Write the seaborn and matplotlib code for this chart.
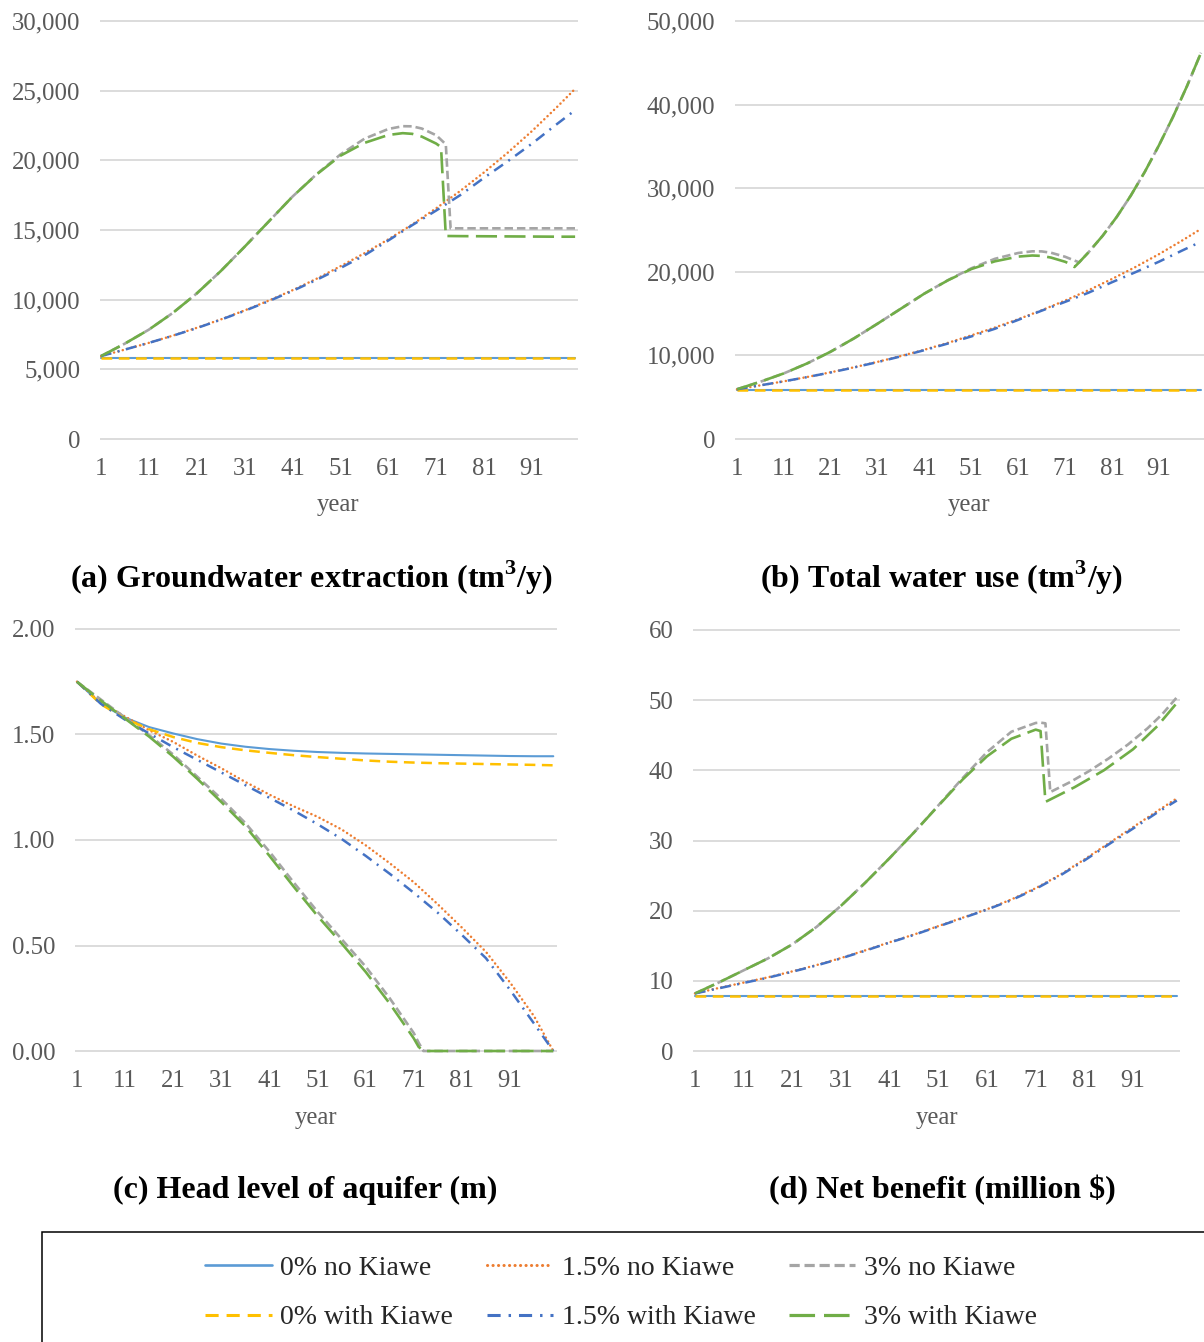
import matplotlib
matplotlib.use("Agg")
import matplotlib.pyplot as plt
import seaborn as sns
from matplotlib.lines import Line2D
from matplotlib.patches import Rectangle
from matplotlib.ticker import FuncFormatter

# ---------------- data ----------------
YR = [1, 6, 11, 16, 21, 26, 31, 36, 41, 46, 51, 56, 61, 66, 71, 76, 81, 86, 91, 96, 100]
YR_FLAT = [1, 100]
X_TICKS = [1, 11, 21, 31, 41, 51, 61, 71, 81, 91]

# (a) Groundwater extraction (tm3/y)
a_0_no = [5830, 5830]
a_0_w = [5810, 5810]
a_15_no = [5950, 6420, 6900, 7420, 7980, 8580, 9230, 9930, 10680, 11500, 12400,
           13330, 14330, 15400, 16560, 17800, 19140, 20570, 22100, 23750, 25130]
a_15_w = [5950, 6420, 6900, 7410, 7960, 8560, 9200, 9890, 10630, 11420, 12270,
          13180, 14250, 15350, 16400, 17500, 18750, 19950, 21200, 22550, 23600]
a_3_no_yr = [1, 6, 11, 16, 21, 26, 31, 36, 41, 46, 51, 56, 61, 64, 66, 68, 71, 73, 74,
             76, 81, 86, 91, 96, 100]
a_3_no = [5950, 6850, 7850, 9050, 10450, 12050, 13800, 15600, 17400, 19000, 20420,
          21550, 22250, 22450, 22440, 22280, 21800, 21150, 15120,
          15120, 15120, 15120, 15120, 15120, 15120]
a_3_w_yr = [1, 6, 11, 16, 21, 26, 31, 36, 41, 46, 51, 56, 61, 64, 66, 68, 71, 72, 73,
            76, 81, 86, 91, 96, 100]
a_3_w = [5950, 6850, 7850, 9050, 10450, 12050, 13800, 15600, 17400, 18980, 20330,
         21250, 21820, 21950, 21900, 21700, 21200, 20950, 14570,
         14560, 14550, 14540, 14530, 14520, 14520]

# (b) Total water use (tm3/y)
b_0_no = [5830, 5830]
b_0_w = [5810, 5810]
b_15_no = a_15_no
b_15_w = a_15_w
b_3_no_yr = [1, 6, 11, 16, 21, 26, 31, 36, 41, 46, 51, 56, 61, 64, 66, 68, 71, 73, 74,
             76, 79, 82, 85, 88, 91, 94, 97, 100]
b_3_no = [5950, 6850, 7850, 9050, 10450, 12050, 13800, 15600, 17400, 19000, 20420,
          21550, 22250, 22450, 22440, 22280, 21800, 21350, 21130,
          22330, 24300, 26550, 29100, 31950, 35100, 38500, 42200, 46200]
b_3_w_yr = [1, 6, 11, 16, 21, 26, 31, 36, 41, 46, 51, 56, 61, 64, 66, 68, 71, 72, 73, 74,
            76, 79, 82, 85, 88, 91, 94, 97, 100]
b_3_w = [5950, 6850, 7850, 9050, 10450, 12050, 13800, 15600, 17400, 18980, 20330,
         21250, 21820, 21950, 21900, 21700, 21200, 20950, 20570, 21130,
         22330, 24300, 26550, 29100, 31950, 35100, 38500, 42200, 46200]

# (c) Head level of aquifer (m)
c_0_no = [1.75, 1.645, 1.58, 1.535, 1.505, 1.478, 1.457, 1.442, 1.431, 1.423, 1.417,
          1.413, 1.410, 1.408, 1.406, 1.404, 1.402, 1.400, 1.398, 1.397, 1.397]
c_0_w = [1.75, 1.643, 1.575, 1.525, 1.488, 1.460, 1.440, 1.425, 1.413, 1.402, 1.393,
         1.385, 1.377, 1.371, 1.367, 1.364, 1.362, 1.360, 1.358, 1.356, 1.354]
c_15_no = [1.75, 1.65, 1.585, 1.52, 1.465, 1.40, 1.34, 1.275, 1.215, 1.16, 1.11,
           1.05, 0.975, 0.89, 0.80, 0.695, 0.585, 0.47, 0.325, 0.165, 0.0]
c_15_w = [1.75, 1.645, 1.57, 1.505, 1.44, 1.38, 1.32, 1.26, 1.20, 1.14, 1.075,
          1.005, 0.925, 0.84, 0.75, 0.655, 0.55, 0.44, 0.29, 0.13, 0.0]
c_3_yr = [1, 6, 11, 16, 21, 26, 31, 36, 41, 46, 51, 56, 61, 66, 71, 72, 73,
          76, 81, 86, 91, 96, 100]
c_3_no = [1.75, 1.665, 1.58, 1.497, 1.405, 1.30, 1.195, 1.08, 0.945, 0.80, 0.66,
          0.53, 0.40, 0.25, 0.085, 0.04, 0.0, 0.0, 0.0, 0.0, 0.0, 0.0, 0.0]
c_3_w = [1.75, 1.66, 1.575, 1.49, 1.395, 1.29, 1.18, 1.065, 0.925, 0.78, 0.64,
         0.51, 0.375, 0.225, 0.06, 0.02, 0.0, 0.0, 0.0, 0.0, 0.0, 0.0, 0.0]

# (d) Net benefit (million $)
d_0_no = [7.9, 7.9]
d_0_w = [7.9, 7.9]
d_15_no = [8.2, 9.0, 9.75, 10.5, 11.35, 12.25, 13.25, 14.35, 15.5, 16.6, 17.8,
           19.0, 20.2, 21.6, 23.2, 25.1, 27.3, 29.6, 31.9, 34.2, 36.0]
d_15_w = [8.2, 8.95, 9.7, 10.45, 11.3, 12.2, 13.2, 14.3, 15.45, 16.55, 17.75,
          18.95, 20.15, 21.5, 23.1, 25.0, 27.15, 29.45, 31.7, 34.0, 35.7]
d_3_no_yr = [1, 6, 11, 16, 21, 26, 31, 36, 41, 46, 51, 56, 61, 66, 71, 72, 73, 74,
             78, 82, 86, 90, 94, 97, 100]
d_3_no = [8.2, 9.8, 11.5, 13.2, 15.2, 17.7, 20.7, 24.0, 27.5, 31.15, 35.0,
          38.9, 42.6, 45.5, 46.75, 46.8, 46.7, 36.9,
          38.3, 39.9, 41.7, 43.7, 46.0, 48.0, 50.4]
d_3_w_yr = [1, 6, 11, 16, 21, 26, 31, 36, 41, 46, 51, 56, 61, 66, 71, 72, 73,
            75, 79, 85, 91, 96, 100]
d_3_w = [8.2, 9.8, 11.5, 13.2, 15.2, 17.7, 20.7, 24.0, 27.5, 31.15, 34.95,
         38.7, 42.0, 44.5, 45.8, 45.6, 35.5, 36.2, 37.6, 40.0, 43.0, 46.3, 49.6]

# ---------------- styles ----------------
STYLE = {
    "0% no Kiawe": dict(color="#5B9BD5", lw=1.5, ls="-"),
    "1.5% no Kiawe": dict(color="#ED7D31", lw=1.8, ls=(0, (0.05, 1.75)), dash_capstyle="round"),
    "3% no Kiawe": dict(color="#A5A5A5", lw=1.9, ls=(0, (3.2, 1.5))),
    "0% with Kiawe": dict(color="#FFC000", lw=1.8, ls=(0, (4.3, 2.6))),
    "1.5% with Kiawe": dict(color="#4472C4", lw=1.8, ls=(0, (4.3, 2.6, 0.8, 2.6))),
    "3% with Kiawe": dict(color="#70AD47", lw=1.9, ls=(0, (8.0, 2.8))),
}

sns.set_theme(style="white")
plt.rcParams["font.family"] = ["Liberation Serif", "DejaVu Serif"]
plt.rcParams["mathtext.fontset"] = "custom"
plt.rcParams["mathtext.rm"] = "Liberation Serif"
plt.rcParams["mathtext.bf"] = "Liberation Serif:bold"

W, H = 1204, 1342
fig = plt.figure(figsize=(W / 100, H / 100), dpi=100)
TICK_COLOR = "#595959"
GRID_COLOR = "#D9D9D9"
TICK_SIZE = 17.8


def make_axes(l, r, t, b, ymax, x1px, sp, ystep, fmt):
    pad = 5
    ax = fig.add_axes([l / W, 1 - (b + pad) / H, (r - l) / W, (b - t + 2 * pad) / H])
    u = ymax / (b - t)
    ax.set_ylim(-pad * u, ymax + pad * u)
    ax.set_xlim(1 - (x1px - l) / sp, 1 + (r - x1px) / sp)
    n = int(round(ymax / ystep))
    ax.set_yticks([i * ystep for i in range(n + 1)])
    ax.yaxis.set_major_formatter(FuncFormatter(fmt))
    ax.set_xticks(X_TICKS)
    ax.yaxis.grid(True, color=GRID_COLOR, lw=1.3)
    ax.xaxis.grid(False)
    ax.set_axisbelow(True)
    sns.despine(ax=ax, left=True, bottom=True)
    ax.tick_params(axis="both", length=0, labelsize=TICK_SIZE, labelcolor=TICK_COLOR)
    ax.tick_params(axis="x", pad=10)
    ax.tick_params(axis="y", pad=14)
    ax.set_facecolor("none")
    return ax


def draw(ax, series):
    for label, yrs, vals in series:
        st = STYLE[label]
        kw = dict(color=st["color"], lw=st["lw"], linestyle=st["ls"])
        if "dash_capstyle" in st:
            kw["dash_capstyle"] = st["dash_capstyle"]
        sns.lineplot(x=yrs, y=vals, ax=ax, sort=False, estimator=None, **kw)
    ax.set_xlabel("")
    ax.set_ylabel("")


comma = lambda v, p: f"{v:,.0f}"

ax_a = make_axes(100, 578, 21, 439, 30000, 101, 4.789, 5000, comma)
draw(ax_a, [
    ("0% no Kiawe", YR_FLAT, a_0_no), ("1.5% no Kiawe", YR, a_15_no),
    ("3% no Kiawe", a_3_no_yr, a_3_no), ("0% with Kiawe", YR_FLAT, a_0_w),
    ("1.5% with Kiawe", YR, a_15_w), ("3% with Kiawe", a_3_w_yr, a_3_w)])

ax_b = make_axes(735, 1204, 21, 439, 50000, 737, 4.687, 10000, comma)
draw(ax_b, [
    ("0% no Kiawe", YR_FLAT, b_0_no), ("1.5% no Kiawe", YR, b_15_no),
    ("3% no Kiawe", b_3_no_yr, b_3_no), ("0% with Kiawe", YR_FLAT, b_0_w),
    ("1.5% with Kiawe", YR, b_15_w), ("3% with Kiawe", b_3_w_yr, b_3_w)])

ax_c = make_axes(75, 557, 629, 1051, 2.0, 77, 4.811, 0.5, lambda v, p: f"{v:.2f}")
draw(ax_c, [
    ("0% no Kiawe", YR, c_0_no), ("1.5% no Kiawe", YR, c_15_no),
    ("3% no Kiawe", c_3_yr, c_3_no), ("0% with Kiawe", YR, c_0_w),
    ("1.5% with Kiawe", YR, c_15_w), ("3% with Kiawe", c_3_yr, c_3_w)])

ax_d = make_axes(693, 1180, 630, 1051, 60, 695, 4.867, 10, lambda v, p: f"{v:.0f}")
draw(ax_d, [
    ("0% no Kiawe", YR_FLAT, d_0_no), ("1.5% no Kiawe", YR, d_15_no),
    ("3% no Kiawe", d_3_no_yr, d_3_no), ("0% with Kiawe", YR_FLAT, d_0_w),
    ("1.5% with Kiawe", YR, d_15_w), ("3% with Kiawe", d_3_w_yr, d_3_w)])

for ax in (ax_a, ax_b, ax_c, ax_d):
    if ax.get_legend() is not None:
        ax.get_legend().remove()

# axis titles "year"
for (x, y) in [(338, 505), (969, 505), (316, 1118), (937, 1118)]:
    fig.text(x / W, 1 - y / H, "year", ha="center", va="center",
             fontsize=TICK_SIZE, color=TICK_COLOR)

# panel captions
captions = [(312, 578, r"(a) Groundwater extraction (tm$^{\mathbf{3}}$/y)"),
            (942, 578, r"(b) Total water use (tm$^{\mathbf{3}}$/y)"),
            (305, 1190, "(c) Head level of aquifer (m)"),
            (942, 1190, "(d) Net benefit (million $)")]
for x, y, s in captions:
    fig.text(x / W, 1 - y / H, s, ha="center", va="center",
             fontsize=23, fontweight="bold", color="black")

# legend
order = ["0% no Kiawe", "0% with Kiawe", "1.5% no Kiawe",
         "1.5% with Kiawe", "3% no Kiawe", "3% with Kiawe"]
handles = []
for lab in order:
    st = STYLE[lab]
    kw = dict(color=st["color"], lw=st["lw"] + 0.4, linestyle=st["ls"])
    if "dash_capstyle" in st:
        kw["dash_capstyle"] = st["dash_capstyle"]
    handles.append(Line2D([], [], **kw))
fig.legend(handles, order, ncol=3, loc="center",
           bbox_to_anchor=(621 / W, 1 - 1293 / H), frameon=False,
           fontsize=20, handlelength=2.4, handletextpad=0.3,
           columnspacing=1.2, labelspacing=0.85)
fig.patches.append(Rectangle((42 / W, -0.02), 1.0, (1342 - 1232) / H + 0.02,
                             transform=fig.transFigure, fill=False,
                             edgecolor="black", lw=1.1))

fig.savefig("out.png", dpi=100, facecolor="white")
